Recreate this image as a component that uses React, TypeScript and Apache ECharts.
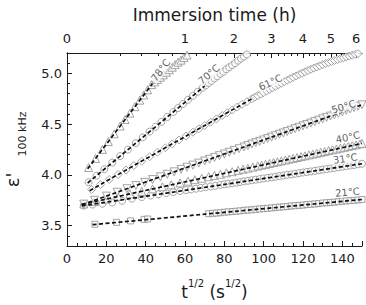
import React, { useEffect, useRef } from "react";
import * as echarts from "echarts";

const FONT = "'DejaVu Sans', 'Liberation Sans', Arial, sans-serif";

// Tick labels
const bottomTicks = [0, 20, 40, 60, 80, 100, 120, 140];
const leftTicks = [3.5, 4.0, 4.5, 5.0];
const topHours = [0, 1, 2, 3, 4, 5, 6];
const topMinorHours = [
  0.2, 0.4, 0.6, 0.8, 1.2, 1.4, 1.6, 1.8, 2.2, 2.4, 2.6, 2.8, 3.2, 3.4, 3.6, 3.8,
  4.2, 4.4, 4.6, 4.8, 5.2, 5.4, 5.6, 5.8,
];

// Measured permittivity, [t^1/2 (s^1/2), eps']
const pts21 = [[14.2,3.514],[25.2,3.533],[32.3,3.547],[39.2,3.562],[41.0,3.566],[72,3.618],[74,3.622],[76,3.624],[78,3.628],[80,3.633],[82,3.636],[84,3.639],[86,3.642],[88,3.646],[90,3.651],[92,3.654],[94,3.656],[96,3.661],[98,3.665],[100,3.668],[102,3.671],[104,3.675],[106,3.680],[108,3.682],[110,3.686],[112,3.689],[114,3.694],[116,3.697],[118,3.700],[120,3.703],[122,3.708],[124,3.711],[126,3.714],[128,3.718],[130,3.723],[132,3.726],[134,3.729],[136,3.732],[138,3.736],[140,3.741],[142,3.744],[144,3.747],[146,3.750],[148,3.754],[150,3.758]];
const pts31 = [[8.5,3.698],[13,3.708],[18,3.716],[23,3.728],[28,3.745],[33,3.766],[38,3.782],[42.5,3.797],[46.5,3.809],[50.5,3.820],[54,3.831],[57.5,3.841],[60.5,3.850],[63,3.857],[65.5,3.864],[68,3.872],[70.5,3.879],[73,3.886],[75.5,3.893],[78,3.901],[80,3.907],[82,3.913],[84,3.918],[86,3.924],[88,3.930],[90,3.936],[92,3.942],[94,3.947],[96,3.953],[98,3.959],[100,3.965],[102,3.971],[104,3.976],[106,3.982],[108,3.988],[110,3.994],[112,4.000],[114,4.005],[116,4.011],[118,4.017],[120,4.023],[122,4.029],[124,4.034],[126,4.040],[128,4.046],[130,4.052],[132,4.058],[134,4.063],[136,4.069],[138,4.075],[140,4.081],[142,4.087],[144,4.092],[146,4.098],[148,4.104],[150,4.110]];
const pts40 = [[8.5,3.714],[14,3.738],[20,3.762],[26,3.788],[32,3.813],[38,3.838],[43.5,3.862],[48.5,3.883],[53,3.902],[57.5,3.921],[61.5,3.938],[65,3.953],[68.5,3.967],[72,3.982],[75,3.995],[78,4.007],[81,4.020],[84,4.032],[87,4.045],[89.5,4.056],[92,4.066],[94.5,4.077],[97,4.087],[99,4.096],[101,4.104],[103,4.113],[105,4.121],[107,4.129],[109,4.138],[111,4.146],[113,4.155],[115,4.163],[117,4.171],[119,4.180],[121,4.188],[123,4.197],[125,4.205],[127,4.213],[129,4.222],[131,4.230],[133,4.239],[135,4.247],[137,4.255],[139,4.264],[141,4.272],[143,4.281],[145,4.289],[147,4.297],[149,4.306],[150,4.310]];
const pts50 = [[8.5,3.712],[14,3.750],[20,3.791],[25.5,3.829],[30.5,3.864],[35,3.895],[39.5,3.926],[43.5,3.954],[47.5,3.981],[51,4.006],[54.5,4.030],[58,4.054],[61,4.075],[64,4.096],[67,4.116],[70,4.137],[72.5,4.154],[75,4.172],[77.5,4.189],[80,4.206],[82.5,4.223],[85,4.241],[87.5,4.258],[90,4.275],[92,4.289],[94,4.303],[96,4.317],[98,4.330],[100,4.344],[102,4.358],[104,4.372],[106,4.386],[108,4.400],[110,4.413],[112,4.427],[114,4.441],[116,4.455],[118,4.469],[120,4.483],[122,4.496],[124,4.510],[126,4.524],[128,4.538],[130,4.552],[132,4.566],[134,4.579],[136,4.593],[138,4.607],[140,4.621],[142,4.635],[144,4.649],[146,4.662],[148,4.676],[150,4.690]];
const pts61 = [[12.5,3.856],[17,3.905],[21.5,3.955],[26,4.004],[30,4.048],[34,4.092],[38,4.135],[42,4.179],[46,4.223],[50,4.267],[53.5,4.305],[57,4.344],[60.5,4.382],[64,4.420],[67,4.453],[70,4.486],[73,4.519],[76,4.552],[79,4.585],[81.5,4.612],[84,4.639],[86.5,4.667],[89,4.694],[91.5,4.721],[94,4.749],[95.5,4.765],[97,4.780],[98.5,4.795],[100,4.810],[101.5,4.826],[103,4.842],[104.5,4.857],[106,4.872],[107.5,4.887],[109,4.902],[110.5,4.917],[112,4.932],[113.5,4.946],[115,4.960],[116.5,4.974],[118,4.988],[119.5,5.001],[121,5.014],[122.5,5.027],[124,5.039],[125.5,5.051],[127,5.063],[128.5,5.074],[130,5.085],[131.5,5.096],[133,5.106],[134.5,5.116],[136,5.126],[137.5,5.135],[139,5.144],[140.5,5.153],[142,5.162],[143.5,5.170],[145,5.178],[146.5,5.186],[148,5.194],[149.5,5.201]];
const pts70 = [[11,3.928],[15,3.992],[19,4.056],[23,4.121],[27,4.185],[31,4.249],[35,4.313],[38.5,4.369],[42,4.426],[45,4.474],[48,4.522],[51,4.570],[54,4.618],[56.5,4.658],[59,4.698],[61.5,4.739],[64,4.779],[66.5,4.819],[69,4.859],[70.5,4.880],[72,4.905],[73.5,4.925],[75,4.950],[76.5,4.970],[78,4.995],[79.5,5.015],[81,5.040],[82.5,5.060],[84,5.080],[85.5,5.100],[87,5.125],[88.5,5.145],[90,5.165],[91.5,5.185],[93,5.205]];
const pts78 = [[11,4.073],[14.5,4.162],[18,4.251],[21,4.328],[24,4.404],[27,4.481],[29.5,4.545],[32,4.608],[34.5,4.672],[37,4.736],[39,4.787],[41,4.838],[43,4.889],[44.5,4.915],[46,4.940],[47.5,4.962],[49,4.985],[50.5,5.010],[52,5.035],[53.5,5.060],[55,5.085],[56.5,5.110],[58,5.130],[59.5,5.155],[61,5.180],[62.5,5.205]];

// Linear fits in t^1/2 (start and end of each fitted range)
const fit21 = [[13,3.51],[150,3.758]];
const fit31 = [[7.5,3.695],[150,4.11]];
const fit40 = [[7.5,3.71],[150,4.31]];
const fit50 = [[7.5,3.705],[150,4.69]];
const fit61 = [[11.5,3.845],[95,4.76]];
const fit70 = [[10.5,3.92],[70,4.875]];
const fit78 = [[10.5,4.06],[43.5,4.90]];

const temperatures = ["21°C", "31°C", "40°C", "50°C", "61°C", "70°C", "78°C"];
const measured = [pts21, pts31, pts40, pts50, pts61, pts70, pts78];
const fits = [fit21, fit31, fit40, fit50, fit61, fit70, fit78];

// Marker look per temperature
const markerStyles = [
  { symbol: "rect", size: 6, rotate: 0 },
  { symbol: "circle", size: 7, rotate: 0 },
  { symbol: "triangle", size: 8, rotate: 0 },
  { symbol: "triangle", size: 8, rotate: 180 },
  { symbol: "diamond", size: 8, rotate: 0 },
  { symbol: "circle", size: 7, rotate: 0 },
  { symbol: "triangle", size: 8, rotate: 0 },
];

// Where each temperature tag sits (data coordinates) and its slant
const tagPlacement = [
  { at: [142.6, 3.83], angle: 5 },
  { at: [141.5, 4.16], angle: 8 },
  { at: [142.8, 4.37], angle: 12 },
  { at: [140.6, 4.67], angle: 17 },
  { at: [103.4, 4.91], angle: 25 },
  { at: [72.2, 4.99], angle: 40 },
  { at: [47.6, 5.03], angle: 53 },
];

export default function App() {
  const ref = useRef<HTMLDivElement>(null);

  useEffect(() => {
    if (!ref.current) return;
    const chart = echarts.init(ref.current, null, { renderer: "svg" });
    const toX = (h: number) => Math.sqrt(h * 3600);
    const ink = "#1a1a1a";

    const series: any[] = [];
    measured.forEach((pts, i) => {
      const m = markerStyles[i];
      series.push({
        type: "scatter",
        name: temperatures[i],
        xAxisIndex: 0,
        yAxisIndex: 0,
        data: pts,
        symbol: m.symbol,
        symbolSize: m.size,
        symbolRotate: m.rotate,
        itemStyle: { color: "#ffffff", borderColor: "#8f8f8f", borderWidth: 1 },
        z: 2,
        silent: true,
      });
    });
    fits.forEach((f, i) => {
      series.push({
        type: "line",
        name: temperatures[i] + " fit",
        xAxisIndex: 0,
        yAxisIndex: 0,
        data: f,
        symbol: "none",
        lineStyle: { color: "#111", width: 1.7, type: [4, 2.5] },
        z: 3,
        silent: true,
      });
    });
    series.push({
      type: "scatter",
      name: "tags",
      xAxisIndex: 0,
      yAxisIndex: 0,
      symbolSize: 1,
      itemStyle: { color: "rgba(0,0,0,0)" },
      z: 4,
      silent: true,
      label: {
        show: true,
        position: "inside",
        color: "#333",
        fontSize: 10,
        fontFamily: FONT,
        backgroundColor: "#fff",
        padding: [0, 1],
      },
      data: tagPlacement.map((t, i) => ({
        value: t.at,
        label: { formatter: temperatures[i], rotate: t.angle },
      })),
    });

    const axisCommon = {
      type: "value",
      min: 0,
      max: 150,
      splitLine: { show: false },
    };
    const yCommon = {
      type: "value",
      min: 3.3,
      max: 5.2,
      splitLine: { show: false },
    };

    chart.setOption({
      animation: false,
      textStyle: { fontFamily: FONT },
      grid: { left: 67, right: 4, top: 53, bottom: 54 },
      xAxis: [
        {
          ...axisCommon,
          position: "bottom",
          interval: 20,
          axisLine: { show: true, lineStyle: { color: ink, width: 1 } },
          axisTick: { inside: true, length: 5, lineStyle: { color: ink } },
          axisLabel: {
            margin: 6,
            fontSize: 13,
            color: ink,
            fontFamily: FONT,
            customValues: bottomTicks,
          },
          name: "{m|t}{s|1/2}{m| (s}{s|1/2}{m|)}",
          nameLocation: "middle",
          nameGap: 32,
          nameTextStyle: {
            rich: {
              m: { fontSize: 17, lineHeight: 22, verticalAlign: "bottom", color: ink, fontFamily: FONT },
              s: { fontSize: 10, lineHeight: 10, verticalAlign: "top", color: ink, fontFamily: FONT },
            },
          },
        },
        {
          ...axisCommon,
          position: "bottom",
          interval: 5,
          axisLine: { show: false },
          axisTick: { inside: true, length: 3, lineStyle: { color: ink } },
          axisLabel: { show: false },
        },
        {
          ...axisCommon,
          position: "top",
          axisLine: { show: true, lineStyle: { color: ink, width: 1 } },
          axisTick: {
            inside: true,
            length: 5,
            lineStyle: { color: ink },
            customValues: topHours.map(toX),
          },
          axisLabel: {
            margin: 8,
            fontSize: 13,
            color: ink,
            fontFamily: FONT,
            customValues: topHours.map(toX),
            formatter: (v: number) => String(Math.round((v * v) / 3600)),
          },
          name: "Immersion time (h)",
          nameLocation: "middle",
          nameGap: 30,
          nameTextStyle: { fontSize: 17, color: ink, fontFamily: FONT },
        },
        {
          ...axisCommon,
          position: "top",
          axisLine: { show: false },
          axisTick: {
            inside: true,
            length: 3,
            lineStyle: { color: ink },
            customValues: topMinorHours.map(toX),
          },
          axisLabel: { show: false },
        },
      ],
      yAxis: [
        {
          ...yCommon,
          position: "left",
          axisLine: { show: true, lineStyle: { color: ink, width: 1 } },
          axisTick: {
            inside: true,
            length: 5,
            lineStyle: { color: ink },
            customValues: leftTicks,
          },
          axisLabel: {
            margin: 5,
            fontSize: 13,
            color: ink,
            fontFamily: FONT,
            customValues: leftTicks,
            formatter: (v: number) => v.toFixed(1),
          },
        },
        {
          ...yCommon,
          position: "left",
          interval: 0.1,
          axisLine: { show: false },
          axisTick: { inside: true, length: 3, lineStyle: { color: ink } },
          axisLabel: { show: false },
        },
        {
          ...yCommon,
          position: "right",
          axisLine: { show: true, lineStyle: { color: ink, width: 1 } },
          axisTick: { show: false },
          axisLabel: { show: false },
        },
      ],
      graphic: [
        {
          type: "text",
          x: 12,
          y: 180,
          rotation: Math.PI / 2,
          style: {
            text: "ε'",
            font: `18px ${FONT}`,
            fill: ink,
            textAlign: "center",
            textVerticalAlign: "middle",
            align: "center",
            verticalAlign: "middle",
          },
        },
        {
          type: "text",
          x: 22,
          y: 134,
          rotation: Math.PI / 2,
          style: {
            text: "100 kHz",
            font: `11px ${FONT}`,
            fill: ink,
            textAlign: "center",
            textVerticalAlign: "middle",
            align: "center",
            verticalAlign: "middle",
          },
        },
      ],
      series,
    });

    return () => chart.dispose();
  }, []);

  return (
    <div
      ref={ref}
      style={{ position: "fixed", left: 0, top: 0, width: 366, height: 305, background: "#fff" }}
    />
  );
}
